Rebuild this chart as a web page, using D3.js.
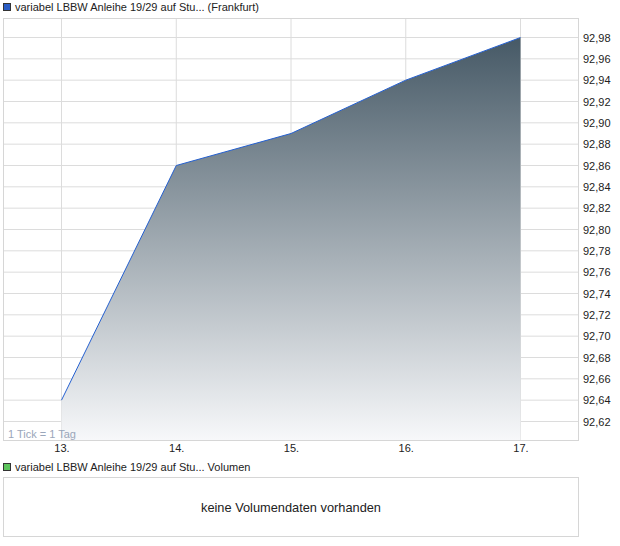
<!DOCTYPE html>
<html>
<head>
<meta charset="utf-8">
<script src="https://cdn.jsdelivr.net/npm/d3@7"></script>
<style>
  body { margin: 0; background: #fff; }
  svg { display: block; font-family: "Liberation Sans", Arial, sans-serif; }
</style>
</head>
<body>
<div id="chart"></div>
<script>
var days = ['13.', '14.', '15.', '16.', '17.'];
var prices = [92.64, 92.86, 92.89, 92.94, 92.98];
var yTicks = [92.62, 92.64, 92.66, 92.68, 92.70, 92.72, 92.74, 92.76, 92.78, 92.80,
  92.82, 92.84, 92.86, 92.88, 92.90, 92.92, 92.94, 92.96, 92.98];
var title = 'variabel LBBW Anleihe 19/29 auf Stu... (Frankfurt)';
var volTitle = 'variabel LBBW Anleihe 19/29 auf Stu... Volumen';

var W = 620, H = 546;
var plot = { left: 3.5, top: 18.5, right: 578.5, bottom: 440.5 };

var svg = d3.select('#chart').append('svg').attr('width', W).attr('height', H);

var x = d3.scalePoint().domain(days).range([61.5, 520.5]);
var y = d3.scaleLinear().domain([92.62, 92.98]).range([421.5, 37.5]);

var defs = svg.append('defs');
var grad = defs.append('linearGradient').attr('id', 'fillGrad')
  .attr('x1', 0).attr('y1', 0).attr('x2', 0).attr('y2', 1);
grad.append('stop').attr('offset', '0%').attr('stop-color', '#465966');
grad.append('stop').attr('offset', '100%').attr('stop-color', '#f7f8fa');

// legend
svg.append('rect').attr('x', 3.5).attr('y', 3.5).attr('width', 7).attr('height', 7)
  .attr('fill', '#2a5cc4').attr('stroke', '#333').attr('stroke-width', 1);
svg.append('text').attr('x', 15).attr('y', 11).attr('font-size', 11).attr('fill', '#222').text(title);

// grid
var g = svg.append('g');
g.selectAll('.hg').data(yTicks).enter().append('line')
  .attr('x1', plot.left).attr('x2', plot.right)
  .attr('y1', function (d) { return y(d); }).attr('y2', function (d) { return y(d); })
  .attr('stroke', '#dcdcdc');
g.selectAll('.vg').data(days).enter().append('line')
  .attr('y1', plot.top).attr('y2', plot.bottom)
  .attr('x1', function (d) { return x(d); }).attr('x2', function (d) { return x(d); })
  .attr('stroke', '#dcdcdc');

// area
var pts = days.map(function (d, i) { return [d, prices[i]]; });
var area = d3.area()
  .x(function (d) { return x(d[0]); })
  .y0(plot.bottom - 0.5)
  .y1(function (d) { return y(d[1]); });
var line = d3.line()
  .x(function (d) { return x(d[0]); })
  .y(function (d) { return y(d[1]); });
svg.append('path').datum(pts).attr('d', area).attr('fill', 'url(#fillGrad)');
svg.append('path').datum(pts).attr('d', line).attr('fill', 'none')
  .attr('stroke', '#2560d0').attr('stroke-width', 1);

// frame
svg.append('rect').attr('x', plot.left).attr('y', plot.top)
  .attr('width', plot.right - plot.left).attr('height', plot.bottom - plot.top)
  .attr('fill', 'none').attr('stroke', '#d6d6d6');

svg.append('text').attr('x', 8).attr('y', 438).attr('font-size', 11)
  .attr('fill', '#9aa6ba').text('1 Tick = 1 Tag');

// axes
var yAxis = d3.axisRight(y).tickValues(yTicks).tickSize(0).tickPadding(0)
  .tickFormat(function (d) { return d3.format('.2f')(d).replace('.', ','); });
var ya = svg.append('g').attr('transform', 'translate(583,0)').call(yAxis);
ya.select('.domain').remove();
ya.selectAll('text').attr('font-size', 11).attr('fill', '#222')
  .attr('font-family', '"Liberation Sans", Arial, sans-serif');

var xAxis = d3.axisBottom(x).tickSize(0).tickPadding(0);
var xa = svg.append('g').attr('transform', 'translate(0,444)').call(xAxis);
xa.select('.domain').remove();
xa.selectAll('text').attr('font-size', 11).attr('fill', '#222')
  .attr('font-family', '"Liberation Sans", Arial, sans-serif');

// volume panel
svg.append('rect').attr('x', 3.5).attr('y', 463.5).attr('width', 7).attr('height', 7)
  .attr('fill', '#5cc45c').attr('stroke', '#333').attr('stroke-width', 1);
svg.append('text').attr('x', 15).attr('y', 471).attr('font-size', 11).attr('fill', '#222').text(volTitle);
svg.append('rect').attr('x', 3.5).attr('y', 477.5).attr('width', 575).attr('height', 59)
  .attr('fill', 'none').attr('stroke', '#d6d6d6');
svg.append('text').attr('x', 291).attr('y', 512).attr('text-anchor', 'middle')
  .attr('font-size', 12.8).attr('fill', '#222').text('keine Volumendaten vorhanden');
</script>
</body>
</html>
